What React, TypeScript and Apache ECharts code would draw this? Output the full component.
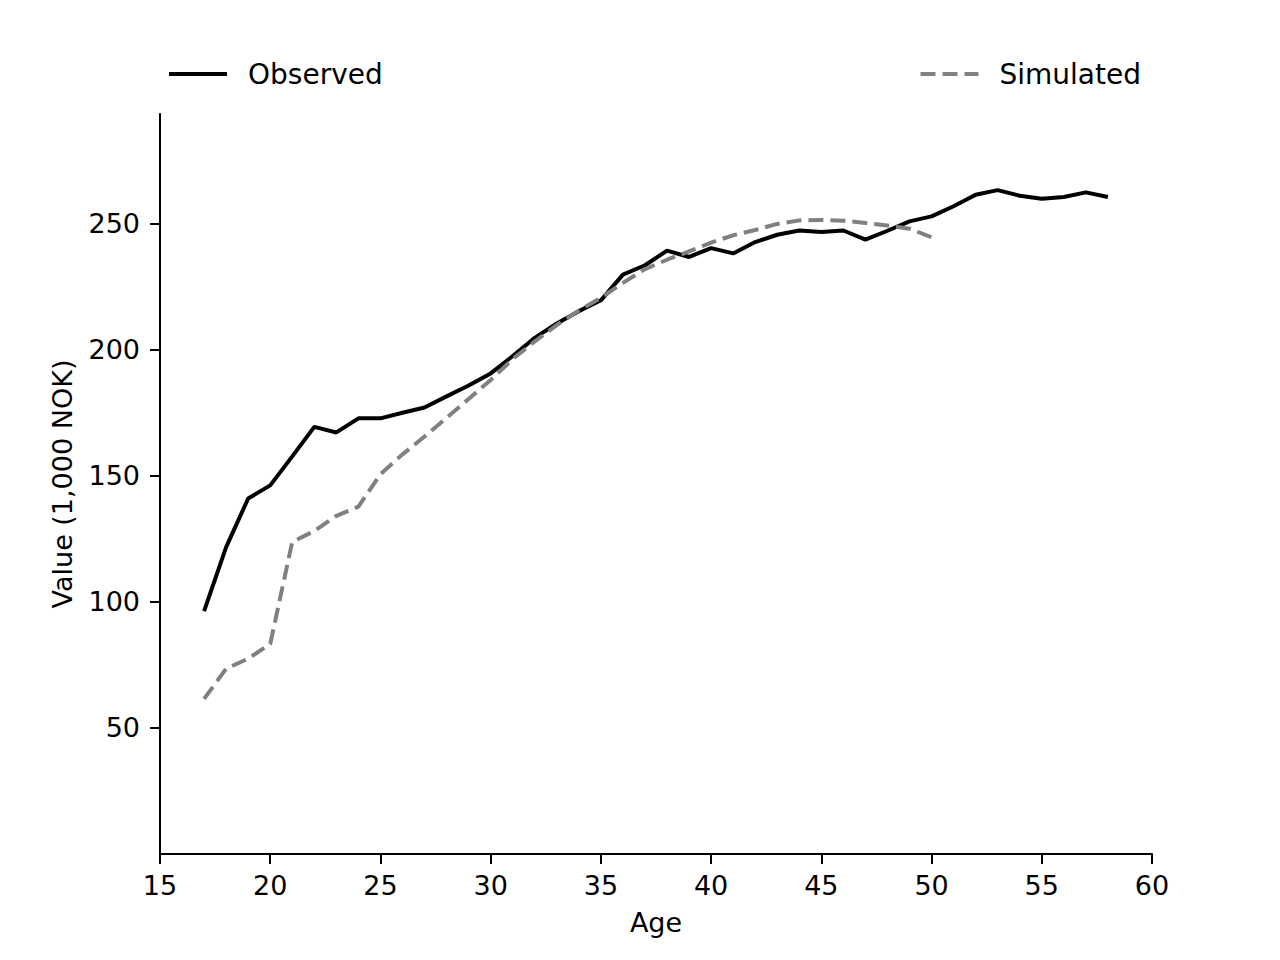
import React, { useEffect, useRef } from "react";
import * as echarts from "echarts";

const observedAges = [17,18,19,20,21,22,23,24,25,26,27,28,29,30,31,32,33,34,35,36,37,38,39,40,41,42,43,44,45,46,47,48,49,50,51,52,53,54,55,56,57,58];
const observedValues = [96.3,121.7,141,146.2,157.7,169.4,167.2,172.8,172.8,175,177.1,181.5,185.8,190.6,197.5,204.7,210.4,215.3,219.6,229.8,233.5,239.3,236.8,240.3,238.2,242.7,245.6,247.3,246.7,247.3,243.7,247.2,250.9,252.9,256.9,261.5,263.3,261.1,259.9,260.6,262.4,260.6];

const simulatedAges = [17,18,19,20,21,22,23,24,25,26,27,28,29,30,31,32,33,34,35,36,37,38,39,40,41,42,43,44,45,46,47,48,49,50];
const simulatedValues = [61.5,73.5,77.5,83.3,123.8,128.1,134.1,137.8,150.6,158.5,165.6,173,180.5,188,196.3,203.3,209.8,215.5,220.6,226.5,232,235.7,239,242.5,245.4,247.5,249.9,251.3,251.5,251.2,250.3,249.3,248,244.6];

const xTicks = { min: 15, max: 60, interval: 5 };
const yTicks = { min: 0, max: 293.5, interval: 50 };

const FONT = "DejaVu Sans";

export default function App() {
  const ref = useRef<HTMLDivElement>(null);
  useEffect(() => {
    if (!ref.current) return;
    const chart = echarts.init(ref.current, null, { renderer: "svg" });
    const textStyle = { fontFamily: FONT, fontSize: 27, color: "#000" };
    const legendText = { fontFamily: FONT, fontSize: 28, color: "#000", padding: [0, 0, 0, 16] };
    chart.setOption({
      animation: false,
      backgroundColor: "#fff",
      textStyle: { fontFamily: FONT },
      grid: { left: 160, right: 128, top: 114, bottom: 106 },
      legend: [
        {
          data: [{ name: "Observed", icon: "path://M0,0h58v4h-58z" }],
          left: 164,
          top: 55,
          itemWidth: 58,
          itemHeight: 4,
          textStyle: legendText,
        },
        {
          data: [{ name: "Simulated", icon: "path://M0,0h15v4h-15z M22,0h15v4h-15z M44,0h14v4h-14z" }],
          right: 134,
          top: 55,
          itemWidth: 58,
          itemHeight: 4,
          textStyle: legendText,
        },
      ],
      xAxis: {
        type: "value",
        min: xTicks.min,
        max: xTicks.max,
        interval: xTicks.interval,
        name: "Age",
        nameLocation: "middle",
        nameGap: 55,
        nameTextStyle: textStyle,
        splitLine: { show: false },
        axisLine: { show: true, lineStyle: { color: "#000", width: 2 } },
        axisTick: { show: true, length: 10, lineStyle: { color: "#000", width: 2 } },
        axisLabel: { ...textStyle, margin: 18 },
      },
      yAxis: {
        type: "value",
        min: yTicks.min,
        max: yTicks.max,
        interval: yTicks.interval,
        name: "Value (1,000 NOK)",
        nameLocation: "middle",
        nameGap: 84,
        nameTextStyle: textStyle,
        splitLine: { show: false },
        axisLine: { show: true, lineStyle: { color: "#000", width: 2 } },
        axisTick: { show: true, length: 10, lineStyle: { color: "#000", width: 2 } },
        axisLabel: { ...textStyle, margin: 20, showMinLabel: false, showMaxLabel: false },
      },
      series: [
        {
          name: "Observed",
          type: "line",
          data: observedAges.map((a, i) => [a, observedValues[i]]),
          symbol: "none",
          lineStyle: { color: "#000", width: 4 },
          itemStyle: { color: "#000" },
        },
        {
          name: "Simulated",
          type: "line",
          data: simulatedAges.map((a, i) => [a, simulatedValues[i]]),
          symbol: "none",
          lineStyle: { color: "#808080", width: 4, type: [15, 7] },
          itemStyle: { color: "#808080" },
        },
      ],
    });
    return () => chart.dispose();
  }, []);
  return <div ref={ref} style={{ width: 1280, height: 960, position: "absolute", left: 0, top: 0 }} />;
}
